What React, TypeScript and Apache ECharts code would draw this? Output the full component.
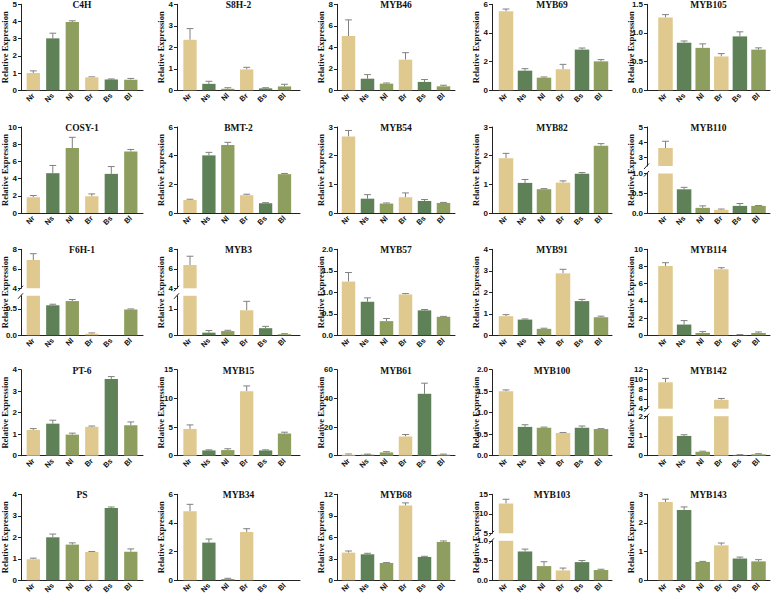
import React, { useEffect, useRef } from "react";
import * as echarts from "echarts";

const categories = ["Nr", "Ns", "Nl", "Br", "Bs", "Bl"];
const barColors = ["#E0C98F", "#5F8157", "#8E9E5E", "#E0C98F", "#5F8157", "#8E9E5E"];

// Row 1
const C4H_mean = [1.0, 3.02, 3.97, 0.75, 0.63, 0.62];
const C4H_sd = [0.13, 0.3, 0.07, 0.03, 0.03, 0.07];
const S8H2_mean = [2.35, 0.3, 0.07, 0.97, 0.09, 0.18];
const S8H2_sd = [0.52, 0.12, 0.05, 0.1, 0.03, 0.1];
const MYB46_mean = [5.05, 1.08, 0.62, 2.85, 0.78, 0.37];
const MYB46_sd = [1.5, 0.38, 0.06, 0.65, 0.22, 0.1];
const MYB69_mean = [5.51, 1.37, 0.88, 1.47, 2.84, 2.02];
const MYB69_sd = [0.16, 0.14, 0.05, 0.34, 0.11, 0.12];
const MYB105_mean = [1.27, 0.83, 0.74, 0.59, 0.94, 0.71];
const MYB105_sd = [0.05, 0.03, 0.07, 0.05, 0.08, 0.03];
// Row 2
const COSY1_mean = [1.83, 4.63, 7.55, 1.95, 4.55, 7.16];
const COSY1_sd = [0.2, 0.9, 1.25, 0.27, 0.85, 0.23];
const BMT2_mean = [0.91, 4.02, 4.74, 1.24, 0.68, 2.71];
const BMT2_sd = [0.05, 0.21, 0.19, 0.07, 0.04, 0.05];
const MYB54_mean = [2.67, 0.5, 0.33, 0.55, 0.42, 0.35];
const MYB54_sd = [0.21, 0.14, 0.02, 0.15, 0.05, 0.02];
const MYB82_mean = [1.91, 1.05, 0.83, 1.06, 1.37, 2.35];
const MYB82_sd = [0.17, 0.12, 0.02, 0.06, 0.04, 0.07];
const MYB110_mean = [3.6, 0.6, 0.13, 0.08, 0.18, 0.18];
const MYB110_sd = [0.45, 0.05, 0.05, 0.02, 0.06, 0.01];
// Row 3
const F6H1_mean = [6.9, 0.57, 0.65, 0.03, 0.0, 0.49];
const F6H1_sd = [0.65, 0.02, 0.03, 0.015, 0.0, 0.01];
const MYB3_mean = [6.39, 0.1, 0.16, 0.95, 0.27, 0.04];
const MYB3_sd = [0.9, 0.08, 0.03, 0.34, 0.07, 0.02];
const MYB57_mean = [1.25, 0.78, 0.33, 0.95, 0.58, 0.43];
const MYB57_sd = [0.21, 0.09, 0.06, 0.02, 0.02, 0.01];
const MYB91_mean = [0.89, 0.73, 0.3, 2.88, 1.59, 0.84];
const MYB91_sd = [0.07, 0.03, 0.03, 0.19, 0.08, 0.05];
const MYB114_mean = [8.05, 1.25, 0.27, 7.67, 0.04, 0.27];
const MYB114_sd = [0.39, 0.46, 0.16, 0.19, 0.04, 0.12];
// Row 4
const PT6_mean = [1.2, 1.49, 0.98, 1.34, 3.57, 1.42];
const PT6_sd = [0.06, 0.16, 0.07, 0.04, 0.11, 0.15];
const MYB15_mean = [4.67, 0.92, 0.98, 11.25, 0.92, 3.87];
const MYB15_sd = [0.7, 0.1, 0.23, 0.92, 0.1, 0.23];
const MYB61_mean = [0.7, 0.7, 2.3, 13.4, 43.2, 0.7];
const MYB61_sd = [0.5, 0.4, 0.5, 1.4, 7.4, 0.4];
const MYB100_mean = [1.5, 0.67, 0.65, 0.53, 0.65, 0.62];
const MYB100_sd = [0.03, 0.05, 0.015, 0.01, 0.04, 0.01];
const MYB142_mean = [9.42, 1.0, 0.2, 5.83, 0.04, 0.07];
const MYB142_sd = [0.8, 0.06, 0.03, 0.27, 0.01, 0.03];
// Row 5
const PS_mean = [0.98, 2.0, 1.66, 1.32, 3.36, 1.33];
const PS_sd = [0.05, 0.15, 0.08, 0.02, 0.05, 0.13];
const MYB34_mean = [4.81, 2.63, 0.09, 3.37, 0.0, 0.0];
const MYB34_sd = [0.49, 0.25, 0.05, 0.23, 0.0, 0.0];
const MYB68_mean = [3.86, 3.63, 2.42, 10.42, 3.26, 5.35];
const MYB68_sd = [0.23, 0.14, 0.05, 0.38, 0.09, 0.14];
const MYB103_mean = [12.63, 0.73, 0.36, 0.25, 0.46, 0.26];
const MYB103_sd = [1.1, 0.06, 0.11, 0.06, 0.04, 0.02];
const MYB143_mean = [2.73, 2.45, 0.64, 1.22, 0.76, 0.66];
const MYB143_sd = [0.1, 0.11, 0.02, 0.08, 0.05, 0.06];

type Gene = {
  name: string;
  mean: number[];
  sd: number[];
  ticks: number[];
  dec?: number;
  lowerMax?: number;
  upperMin?: number;
  upperTicks?: number[];
};

const genes: Gene[] = [
  { name: "C4H", mean: C4H_mean, sd: C4H_sd, ticks: [0, 1, 2, 3, 4, 5] },
  { name: "S8H-2", mean: S8H2_mean, sd: S8H2_sd, ticks: [0, 1, 2, 3, 4] },
  { name: "MYB46", mean: MYB46_mean, sd: MYB46_sd, ticks: [0, 2, 4, 6, 8] },
  { name: "MYB69", mean: MYB69_mean, sd: MYB69_sd, ticks: [0, 2, 4, 6] },
  { name: "MYB105", mean: MYB105_mean, sd: MYB105_sd, ticks: [0, 0.5, 1.0, 1.5], dec: 1 },
  { name: "COSY-1", mean: COSY1_mean, sd: COSY1_sd, ticks: [0, 2, 4, 6, 8, 10] },
  { name: "BMT-2", mean: BMT2_mean, sd: BMT2_sd, ticks: [0, 2, 4, 6] },
  { name: "MYB54", mean: MYB54_mean, sd: MYB54_sd, ticks: [0, 1, 2, 3] },
  { name: "MYB82", mean: MYB82_mean, sd: MYB82_sd, ticks: [0, 1, 2, 3] },
  { name: "MYB110", mean: MYB110_mean, sd: MYB110_sd, ticks: [0, 0.5, 1.0], dec: 1, lowerMax: 1.0, upperMin: 2.4, upperTicks: [3, 4, 5] },
  { name: "F6H-1", mean: F6H1_mean, sd: F6H1_sd, ticks: [0, 0.5], dec: 1, lowerMax: 0.75, upperMin: 4, upperTicks: [4, 6, 8] },
  { name: "MYB3", mean: MYB3_mean, sd: MYB3_sd, ticks: [0, 1], lowerMax: 1.5, upperMin: 4, upperTicks: [4, 6, 8] },
  { name: "MYB57", mean: MYB57_mean, sd: MYB57_sd, ticks: [0, 0.5, 1.0, 1.5, 2.0], dec: 1 },
  { name: "MYB91", mean: MYB91_mean, sd: MYB91_sd, ticks: [0, 1, 2, 3, 4] },
  { name: "MYB114", mean: MYB114_mean, sd: MYB114_sd, ticks: [0, 2, 4, 6, 8, 10] },
  { name: "PT-6", mean: PT6_mean, sd: PT6_sd, ticks: [0, 1, 2, 3, 4] },
  { name: "MYB15", mean: MYB15_mean, sd: MYB15_sd, ticks: [0, 5, 10, 15] },
  { name: "MYB61", mean: MYB61_mean, sd: MYB61_sd, ticks: [0, 20, 40, 60] },
  { name: "MYB100", mean: MYB100_mean, sd: MYB100_sd, ticks: [0, 0.5, 1.0, 1.5, 2.0], dec: 1 },
  { name: "MYB142", mean: MYB142_mean, sd: MYB142_sd, ticks: [0, 1, 2], lowerMax: 2, upperMin: 4, upperTicks: [4, 6, 8, 10, 12] },
  { name: "PS", mean: PS_mean, sd: PS_sd, ticks: [0, 1, 2, 3, 4] },
  { name: "MYB34", mean: MYB34_mean, sd: MYB34_sd, ticks: [0, 2, 4, 6] },
  { name: "MYB68", mean: MYB68_mean, sd: MYB68_sd, ticks: [0, 3, 6, 9, 12] },
  { name: "MYB103", mean: MYB103_mean, sd: MYB103_sd, ticks: [0, 0.5, 1.0], dec: 1, lowerMax: 1.0, upperMin: 5, upperTicks: [5, 10, 15] },
  { name: "MYB143", mean: MYB143_mean, sd: MYB143_sd, ticks: [0, 1, 2, 3] },
];

// layout (pixels)
const cols = [
  { axisX: 21, first: 33.3, step: 19.5, end: 143, barW: 13.3 },
  { axisX: 177, first: 190, step: 18.9, end: 300, barW: 13.3 },
  { axisX: 337, first: 348.5, step: 19, end: 455, barW: 13.5 },
  { axisX: 492, first: 506, step: 19, end: 612, barW: 14.5 },
  { axisX: 647, first: 665.5, step: 18.6, end: 770, barW: 14.5 },
];
const rowTops = [4.3, 127, 249.3, 369.7, 494.3];
const plotH = 86;
const lowerH = 39.5;
const upperH = 39;
const axisColor = "#222";
const errColor = "#808080";
const sansFont = '"Liberation Sans", Arial, sans-serif';
const serifFont = '"Liberation Serif", "Times New Roman", serif';

function buildOption() {
  const grid: any[] = [];
  const xAxis: any[] = [];
  const yAxis: any[] = [];
  const series: any[] = [];
  const graphic: any[] = [];

  genes.forEach((g, i) => {
    const r = Math.floor(i / 5);
    const c = i % 5;
    const col = cols[c];
    const top = rowTops[r];
    const xMin = -(col.first - col.axisX) / col.step;
    const xMax = 5 + (col.end - (col.first + 5 * col.step)) / col.step;
    const width = col.end - col.axisX;
    const dec = g.dec ?? 0;

    const addSeg = (
      segTop: number,
      segH: number,
      yMin: number,
      yMax: number,
      ticks: number[],
      tickDec: number,
      showX: boolean,
      keepBar: (v: number) => boolean,
      keepErr: (v: number) => boolean
    ) => {
      const gi = grid.length;
      grid.push({ left: col.axisX, top: segTop, width, height: segH, containLabel: false, outerBoundsMode: "none" });
      xAxis.push({
        type: "value",
        gridIndex: gi,
        min: xMin,
        max: xMax,
        splitLine: { show: false },
        axisTick: { show: false },
        axisLine: { show: showX, onZero: false, lineStyle: { color: axisColor, width: 1 } },
        axisLabel: showX
          ? {
              show: true,
              customValues: [0, 1, 2, 3, 4, 5],
              formatter: (v: number) => categories[Math.round(v)] ?? "",
              rotate: 45,
              margin: 4,
              fontSize: 7.5,
              fontWeight: "bold",
              fontFamily: sansFont,
              color: "#111",
            }
          : { show: false },
      });
      yAxis.push({
        type: "value",
        gridIndex: gi,
        min: yMin,
        max: yMax,
        splitLine: { show: false },
        axisLine: { show: true, onZero: false, lineStyle: { color: axisColor, width: 1 } },
        axisTick: { show: true, length: 3, customValues: ticks, lineStyle: { color: axisColor, width: 1 } },
        axisLabel: {
          customValues: ticks,
          formatter: (v: number) => v.toFixed(tickDec),
          margin: 4,
          fontSize: 8,
          fontWeight: "bold",
          fontFamily: sansFont,
          color: "#111",
        },
      });
      series.push({
        type: "bar",
        xAxisIndex: gi,
        yAxisIndex: gi,
        barWidth: col.barW,
        clip: true,
        silent: true,
        data: g.mean.map((v, k) =>
          keepBar(v)
            ? { value: [k, Math.min(v, yMax)], itemStyle: { color: barColors[k] } }
            : { value: [k, "-"] }
        ),
      });
      const errData = g.mean
        .map((v, k) => [k, v, g.sd[k]])
        .filter((d) => keepErr(d[1]) && d[2] > 0);
      series.push({
        type: "custom",
        xAxisIndex: gi,
        yAxisIndex: gi,
        silent: true,
        clip: false,
        encode: { x: 0, y: 1 },
        data: errData,
        renderItem: (_p: any, api: any) => {
          const x = api.value(0);
          const y = api.value(1);
          const e = api.value(2);
          const p0 = api.coord([x, y]);
          const p1 = api.coord([x, y + e]);
          const hw = 3.4;
          const style = { stroke: errColor, lineWidth: 1, fill: "none" };
          return {
            type: "group",
            children: [
              { type: "line", shape: { x1: p0[0], y1: p0[1], x2: p1[0], y2: p1[1] }, style },
              { type: "line", shape: { x1: p1[0] - hw, y1: p1[1], x2: p1[0] + hw, y2: p1[1] }, style },
            ],
          };
        },
      });
    };

    if (g.upperTicks && g.lowerMax !== undefined && g.upperMin !== undefined) {
      const lm = g.lowerMax;
      addSeg(top + plotH - lowerH, lowerH, 0, lm, g.ticks, dec, true, () => true, (v) => v <= lm);
      addSeg(top, upperH, g.upperMin, g.upperTicks[g.upperTicks.length - 1], g.upperTicks, 0, false, (v) => v > lm, (v) => v > lm);
      const ax = col.axisX;
      const yA = top + upperH;
      const yB = top + plotH - lowerH;
      [yA, yB].forEach((yy) => {
        graphic.push({
          type: "line",
          silent: true,
          shape: { x1: ax - 3, y1: yy + 3, x2: ax + 2, y2: yy - 2.5 },
          style: { stroke: axisColor, lineWidth: 1 },
        });
      });
    } else {
      addSeg(top, plotH, 0, g.ticks[g.ticks.length - 1], g.ticks, dec, true, () => true, () => true);
    }

    graphic.push({
      type: "text",
      silent: true,
      x: (col.axisX + col.end) / 2,
      y: top + 1,
      style: {
        text: g.name,
        font: `bold 9.5px ${serifFont}`,
        fill: "#111",
        align: "center",
        verticalAlign: "middle",
        textAlign: "center",
        textVerticalAlign: "middle",
      },
    });
    graphic.push({
      type: "text",
      silent: true,
      x: col.axisX - 16,
      y: top + plotH / 2,
      rotation: Math.PI / 2,
      style: {
        text: "Relative Expression",
        font: `bold 8.5px ${serifFont}`,
        fill: "#111",
        align: "center",
        verticalAlign: "middle",
        textAlign: "center",
        textVerticalAlign: "middle",
      },
    });
  });

  return {
    animation: false,
    backgroundColor: "#ffffff",
    grid,
    xAxis,
    yAxis,
    series,
    graphic,
  };
}

export default function App() {
  const ref = useRef<HTMLDivElement>(null);
  useEffect(() => {
    if (!ref.current) return;
    const chart = echarts.init(ref.current, undefined, { renderer: "svg" });
    chart.setOption(buildOption() as any);
    return () => chart.dispose();
  }, []);
  return (
    <div
      ref={ref}
      style={{ position: "absolute", left: 0, top: 0, width: 777, height: 597, background: "#fff" }}
    />
  );
}
